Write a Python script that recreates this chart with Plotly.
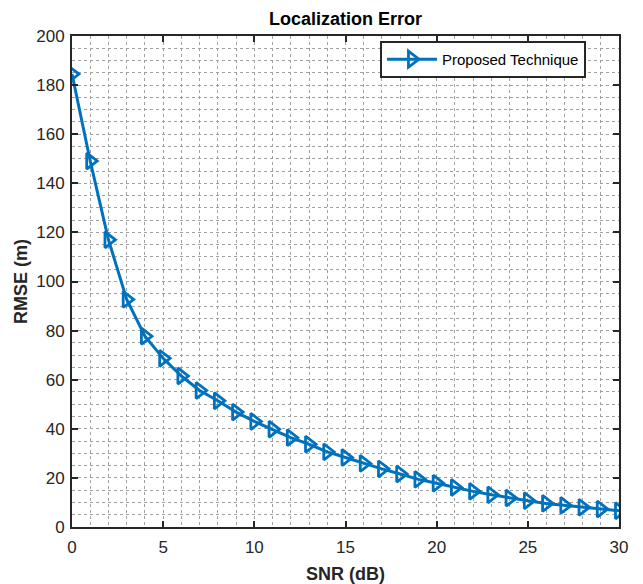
import plotly.graph_objects as go

snr_db = list(range(0, 31))
rmse_m = [184.5, 149.1, 117.0, 92.7, 77.7, 68.7, 61.5, 55.6, 51.4, 46.8,
          43.0, 39.8, 36.4, 33.7, 30.6, 28.3, 25.9, 23.7, 21.6, 19.4,
          17.8, 16.1, 14.5, 13.1, 11.8, 10.7, 9.6, 8.8, 8.0, 7.3, 6.6]
series_name = "Proposed Technique"
x_ticks = [0, 5, 10, 15, 20, 25, 30]
y_ticks = [0, 20, 40, 60, 80, 100, 120, 140, 160, 180, 200]

BLUE = "#0072BD"
FONT = "Liberation Sans, Arial, Helvetica, sans-serif"
GRID = "#a0a0a0"

fig = go.Figure()
fig.add_trace(go.Scatter(
    x=snr_db, y=rmse_m, mode="lines+markers", name=series_name,
    line=dict(color=BLUE, width=3),
    marker=dict(symbol="triangle-right-open", size=14, color=BLUE,
                line=dict(color=BLUE, width=2.8)),
))

axis_common = dict(
    showline=True, linecolor="#262626", linewidth=2, mirror="ticks",
    ticks="inside", ticklen=6, tickwidth=2, tickcolor="#262626",
    showgrid=True, gridcolor=GRID, gridwidth=1, griddash="dot",
    zeroline=False, automargin=False,
    tickfont=dict(family=FONT, size=17, color="#262626"),
)

fig.update_xaxes(
    range=[0, 30], tickvals=x_ticks, ticklabelstandoff=4,
    minor=dict(dtick=1, showgrid=True, gridcolor=GRID, gridwidth=1, griddash="dot", ticks=""),
    title=dict(text="<b>SNR (dB)</b>", font=dict(family=FONT, size=18, color="#262626"), standoff=11),
    **axis_common,
)
fig.update_yaxes(
    range=[0, 200], tickvals=y_ticks, ticklabelstandoff=2,
    minor=dict(dtick=5, showgrid=True, gridcolor=GRID, gridwidth=1, griddash="dot", ticks=""),
    title=dict(text="<b>RMSE (m)</b>", font=dict(family=FONT, size=18, color="#262626"), standoff=4),
    **axis_common,
)

fig.update_layout(
    width=643, height=584,
    margin=dict(l=72, r=24, t=36, b=57),
    paper_bgcolor="white", plot_bgcolor="white",
    title=dict(text="<b>Localization Error</b>", x=0.5, xref="paper", xanchor="center",
               y=1 - 19 / 584, yanchor="middle",
               font=dict(family=FONT, size=18, color="black")),
    legend=dict(x=0.563, y=0.99, xanchor="left", yanchor="top",
                bgcolor="white", bordercolor="#262626", borderwidth=2,
                font=dict(family=FONT, size=15, color="black"),
                itemwidth=50, tracegroupgap=0),
    showlegend=True,
)

fig.write_html("out.html", config={"displayModeBar": False},
               post_script="document.body.style.margin='0';")
